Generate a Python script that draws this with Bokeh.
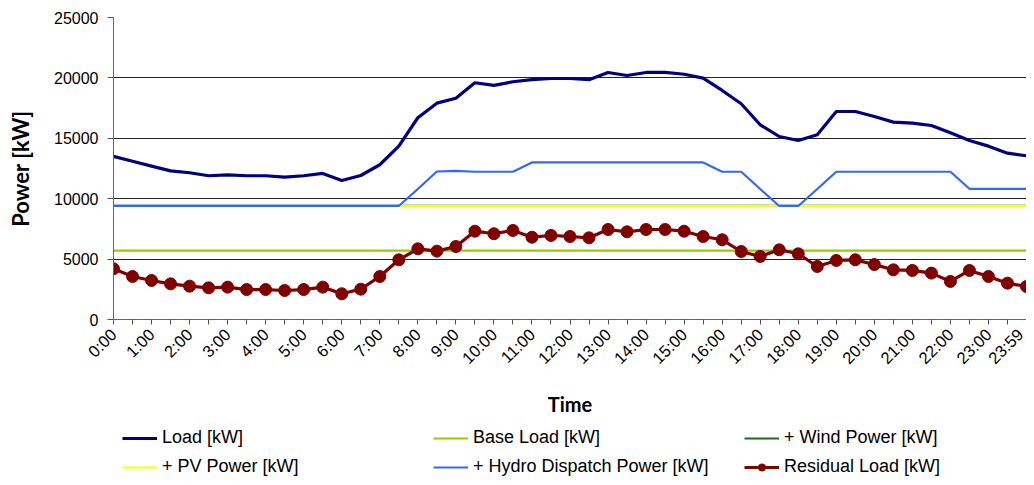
import math
from bokeh.plotting import figure
from bokeh.layouts import column
from bokeh.models import Range1d, FixedTicker, Legend, LegendItem
from bokeh.embed import file_html
from bokeh.resources import INLINE

times = ["0:00", "0:30", "1:00", "1:30", "2:00", "2:30", "3:00", "3:30", "4:00", "4:30",
         "5:00", "5:30", "6:00", "6:30", "7:00", "7:30", "8:00", "8:30", "9:00", "9:30",
         "10:00", "10:30", "11:00", "11:30", "12:00", "12:30", "13:00", "13:30", "14:00", "14:30",
         "15:00", "15:30", "16:00", "16:30", "17:00", "17:30", "18:00", "18:30", "19:00", "19:30",
         "20:00", "20:30", "21:00", "21:30", "22:00", "22:30", "23:00", "23:30", "23:59"]

load = [13500, 13100, 12700, 12300, 12150, 11900, 11980, 11900, 11900, 11780, 11900, 12090, 11510,
        11920, 12810, 14350, 16700, 17910, 18320, 19600, 19380, 19680, 19850, 19950, 19950, 19850,
        20450, 20200, 20450, 20450, 20300, 19980, 18960, 17860, 16120, 15150, 14820, 15290, 17220,
        17220, 16810, 16340, 16250, 16060, 15460, 14820, 14350, 13770, 13550]

base_load = [5700, 5700, 5700, 5700, 5700, 5700, 5700, 5700, 5700, 5700, 5700, 5700, 5700,
             5700, 5700, 5700, 5700, 5700, 5700, 5700, 5700, 5700, 5700, 5700, 5700, 5700,
             5700, 5700, 5700, 5700, 5700, 5700, 5700, 5700, 5700, 5700, 5700, 5700, 5700,
             5700, 5700, 5700, 5700, 5700, 5700, 5700, 5700, 5700, 5700]

wind_power = [9400, 9400, 9400, 9400, 9400, 9400, 9400, 9400, 9400, 9400, 9400, 9400, 9400,
              9400, 9400, 9400, 9400, 9400, 9400, 9400, 9400, 9400, 9400, 9400, 9400, 9400,
              9400, 9400, 9400, 9400, 9400, 9400, 9400, 9400, 9400, 9400, 9400, 9400, 9400,
              9400, 9400, 9400, 9400, 9400, 9400, 9400, 9400, 9400, 9400]

pv_power = [9400, 9400, 9400, 9400, 9400, 9400, 9400, 9400, 9400, 9400, 9400, 9400, 9400,
            9400, 9400, 9400, 9400, 9400, 9400, 9400, 9400, 9400, 9400, 9400, 9400, 9400,
            9400, 9400, 9400, 9400, 9400, 9400, 9400, 9400, 9400, 9400, 9400, 9400, 9400,
            9400, 9400, 9400, 9400, 9400, 9400, 9400, 9400, 9400, 9400]

hydro_power = [9400, 9400, 9400, 9400, 9400, 9400, 9400, 9400, 9400, 9400, 9400, 9400, 9400,
               9400, 9400, 9400, 10800, 12250, 12310, 12230, 12230, 12230, 13000, 13000, 13000, 13000,
               13000, 13000, 13000, 13000, 13000, 13000, 12230, 12230, 10800, 9400, 9400, 10800, 12230,
               12230, 12230, 12230, 12230, 12230, 12230, 10820, 10820, 10820, 10820]

residual_load = [4200, 3560, 3230, 2950, 2760, 2620, 2680, 2480, 2480, 2400, 2480, 2680, 2130,
                 2510, 3560, 4940, 5850, 5660, 6040, 7310, 7100, 7370, 6810, 6960, 6870, 6760,
                 7450, 7260, 7450, 7450, 7310, 6870, 6600, 5630, 5220, 5770, 5440, 4390, 4890,
                 4940, 4550, 4110, 4060, 3840, 3150, 4060, 3560, 3010, 2730]

series_labels = ["Load [kW]", "Base Load [kW]", "+ Wind Power [kW]",
                 "+ PV Power [kW]", "+ Hydro Dispatch Power [kW]", "Residual Load [kW]"]
series_colors = ["#000080", "#99CC00", "#1F6B1F", "#FFFF00", "#3366FF", "#800000"]
series_widths = [3.2, 2.2, 2.2, 2, 2.2, 3.2]
series_values = [load, base_load, wind_power, pv_power, hydro_power, residual_load]

y_ticks = [0, 5000, 10000, 15000, 20000, 25000]

x = list(range(len(times)))


def draw_series(fig):
    rends = []
    for vals, col, w in zip(series_values, series_colors, series_widths):
        rends.append([fig.line(x, vals, line_color=col, line_width=w)])
    rends[5].append(fig.scatter(x, residual_load, size=12, marker="circle",
                                fill_color=series_colors[5], line_color=series_colors[5]))
    return rends


p = figure(width=1026, height=420, output_backend="svg", toolbar_location=None,
           x_range=Range1d(0, len(times) - 1), y_range=Range1d(0, 25000),
           min_border_left=113, min_border_right=0, min_border_top=17, min_border_bottom=101)
p.outline_line_color = None
p.background_fill_color = "white"
draw_series(p)

# x axis
p.xaxis.ticker = FixedTicker(ticks=x, minor_ticks=[])
p.xaxis.major_label_overrides = {i: (t if i % 2 == 0 else "") for i, t in enumerate(times)}
p.xaxis.major_label_orientation = math.pi / 4
p.xaxis.major_label_text_font = "Liberation Sans"
p.xaxis.major_label_text_font_size = "16.5px"
p.xaxis.major_label_text_color = "black"
p.xaxis.major_tick_in = 0
p.xaxis.major_tick_out = 5
p.xaxis.major_label_standoff = 7
p.xaxis.axis_line_color = "#666666"
p.xaxis.major_tick_line_color = "#555555"
p.xaxis.axis_label = "Time"
p.xaxis.axis_label_text_font = "Lato"
p.xaxis.axis_label_text_font_style = "bold"
p.xaxis.axis_label_text_font_size = "20px"
p.xaxis.axis_label_text_color = "black"
p.xaxis.axis_label_standoff = 16

# y axis
p.yaxis.ticker = FixedTicker(ticks=y_ticks, minor_ticks=[])
p.yaxis.major_label_text_font = "Liberation Sans"
p.yaxis.major_label_text_font_size = "16px"
p.yaxis.major_label_text_color = "black"
p.yaxis.major_tick_in = 0
p.yaxis.major_tick_out = 6
p.yaxis.major_label_standoff = 9
p.yaxis.axis_line_color = "#666666"
p.yaxis.major_tick_line_color = "#555555"
p.yaxis.axis_label = "Power [kW]"
p.yaxis.axis_label_text_font = "Lato"
p.yaxis.axis_label_text_font_style = "bold"
p.yaxis.axis_label_text_font_size = "22px"
p.yaxis.axis_label_text_color = "black"
p.yaxis.axis_label_standoff = 17

p.xgrid.visible = False
p.ygrid.ticker = FixedTicker(ticks=y_ticks[1:], minor_ticks=[])
p.ygrid.grid_line_color = "#222222"
p.ygrid.grid_line_width = 1

# legend strip below the chart: same series, drawn against a y range they never reach,
# so only the legend keys show
lg = figure(width=1026, height=57, output_backend="svg", toolbar_location=None,
            x_range=Range1d(0, len(times) - 1), y_range=Range1d(-2, -1), min_border=0,
            x_axis_location=None, y_axis_location=None)
lg.outline_line_color = None
lg.xgrid.visible = False
lg.ygrid.visible = False
keys = draw_series(lg)

legend = Legend(items=[LegendItem(label=lab, renderers=r) for lab, r in zip(series_labels, keys)],
                location=(9, 0), orientation="horizontal", ncols=3,
                glyph_width=35, glyph_height=18, label_standoff=5, spacing=8,
                padding=0, margin=0, border_line_color=None, background_fill_alpha=0,
                label_text_font="Liberation Sans", label_text_font_size="18px",
                label_text_color="black", label_width=263, label_height=18)
lg.add_layout(legend)

layout = column(p, lg, spacing=0)

open("out.html", "w").write(file_html(layout, INLINE))
